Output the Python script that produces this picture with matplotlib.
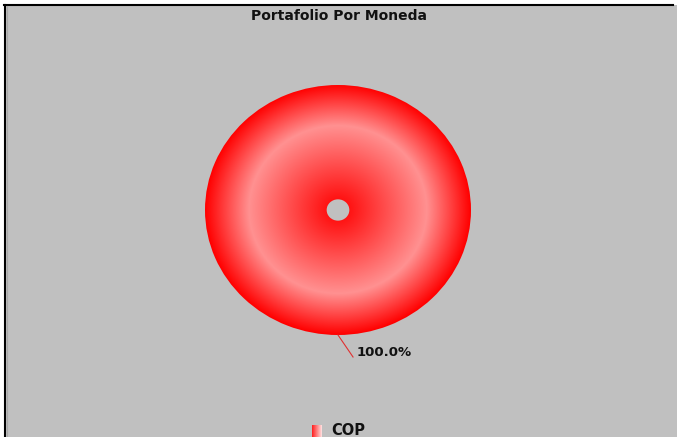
import numpy as np
import matplotlib.pyplot as plt
from matplotlib.patches import Rectangle

# datos del grafico
monedas = ['COP']
valores = [100.0]
titulo = 'Portafolio Por Moneda'

W, H = 677, 437
fig = plt.figure(figsize=(W / 100, H / 100), dpi=100)
fig.patch.set_facecolor('white')

# fondo en coordenadas de pixel
bg = fig.add_axes([0, 0, 1, 1])
bg.set_xlim(0, W)
bg.set_ylim(H, 0)
bg.axis('off')
bg.add_patch(Rectangle((4, 5), W - 4, H - 5, facecolor='#c0c0c0', edgecolor='none'))
bg.plot([4, 673], [5, 5], color='black', lw=1.5)
bg.plot([4.5, 4.5], [5, H], color='black', lw=1.5)
bg.plot([6.5, 6.5], [6, H], color='#a8a8a8', lw=0.8)

bg.text(339, 16, titulo, ha='center', va='center', fontsize=10,
        fontweight='bold', color='#111111')


# degradado radial rojo-rosado-rojo
def gradiente(n=400, pico=0.67):
    x = np.linspace(-1, 1, n)
    xx, yy = np.meshgrid(x, x)
    r = np.sqrt(xx ** 2 + yy ** 2)
    g = np.where(r < pico, 145 * (r / pico), 145 * (1 - (r - pico) / (1 - pico)))
    g = np.clip(g, 0, 145) / 255.0
    img = np.zeros((n, n, 3))
    img[..., 0] = 1.0
    img[..., 1] = g
    img[..., 2] = g
    return img


# donut (eliptico)
cx, cy, rx, ry = 338, 210, 133, 125
ax = fig.add_axes([(cx - rx) / W, (H - cy - ry) / H, 2 * rx / W, 2 * ry / H])
wedges, _ = ax.pie(valores, radius=1, startangle=90, counterclock=False,
                   wedgeprops=dict(width=1 - 11 / 129, edgecolor='none', facecolor='none'))
ax.axis('off')

img = gradiente()
for w in wedges:
    im = ax.imshow(img, extent=[-1, 1, -1, 1], origin='lower', zorder=1, aspect='auto')
    im.set_clip_path(w)
ax.set_aspect('auto')
ax.set_xlim(-1, 1)
ax.set_ylim(-1, 1)

# etiqueta de porcentaje con linea guia
total = sum(valores)
for w, v in zip(wedges, valores):
    ang = np.deg2rad((w.theta1 + w.theta2) / 2)
    x0, y0 = np.cos(ang), np.sin(ang)
    ax.plot([x0, x0 + 0.113], [y0, y0 - 0.176], color='#e03030', lw=0.8, clip_on=False)
    ax.text(x0 + 0.143, y0 - 0.136, f'{100 * v / total:.1f}%', ha='left', va='center',
            fontsize=9.5, fontweight='bold', color='#111111', clip_on=False)

# leyenda: cuadro con degradado rojo -> rosado
lx, ly = 312, 425
n = 10
for i in range(n):
    t = i / (n - 1)
    col = (1.0, 0.15 + 0.7 * t, 0.15 + 0.7 * t)
    bg.add_patch(Rectangle((lx + i, ly), 1.05, 12, facecolor=col, edgecolor='none', zorder=3))
bg.text(lx + 19, ly + 5.5, monedas[0], ha='left', va='center', fontsize=10.5,
        fontweight='bold', color='#111111')

fig.savefig('out.png', dpi=100)
